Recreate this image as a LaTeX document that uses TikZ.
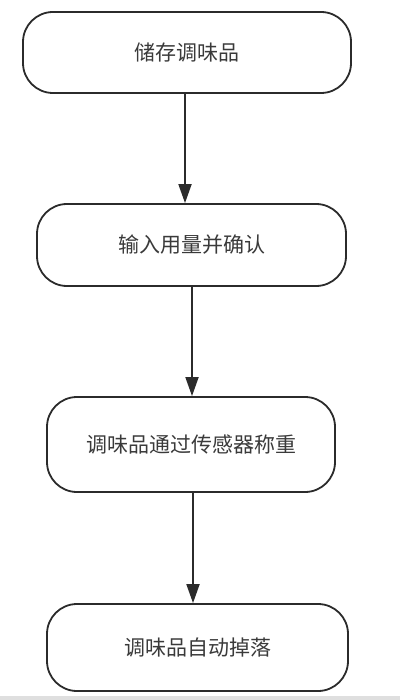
\documentclass[tikz,border=0pt]{standalone}
\usepackage{fontspec}
\newfontfamily\cjk{Noto Sans CJK SC}
\usetikzlibrary{arrows.meta}
\definecolor{edge}{HTML}{2B2B2B}
\definecolor{ink}{HTML}{3A3A3A}
\tikzset{
	stepbox/.style={draw=edge, line width=1.8pt, rounded corners=30pt, inner sep=0pt, text=ink, font=\cjk\fontsize{21pt}{21pt}\selectfont},
	flow/.style={draw=edge, line width=1.8pt, -{Triangle[length=19pt,width=13pt]}}
}

\begin{document}
\begin{tikzpicture}[x=1pt, y=-1pt]
		%%%%% START %%%%%
		\useasboundingbox (0, 0) rectangle (400, 700);
		\fill[gray!25] (0, 696) rectangle (400, 700);
		
		\node[stepbox, minimum width=328pt, minimum height=81pt] (store) at (187, 52.5) {储存调味品};
		\node[stepbox, minimum width=309pt, minimum height=82pt] (input) at (191.5, 245) {输入用量并确认};
		\node[stepbox, minimum width=288pt, minimum height=95pt] (weigh) at (191, 444.5) {调味品通过传感器称重};
		\node[stepbox, minimum width=301pt, minimum height=87pt] (drop) at (197.5, 647.5) {调味品自动掉落};
		
		\coordinate (col1) at (185, 0);
		\coordinate (col2) at (192, 0);
		\coordinate (col3) at (193, 0);
		
		\draw[flow] (store.south -| col1) -- (input.north -| col1);
		\draw[flow] (input.south -| col2) -- (weigh.north -| col2);
		\draw[flow] (weigh.south -| col3) -- (drop.north -| col3);
		%%%%% END %%%%%
	\end{tikzpicture}
\end{document}
